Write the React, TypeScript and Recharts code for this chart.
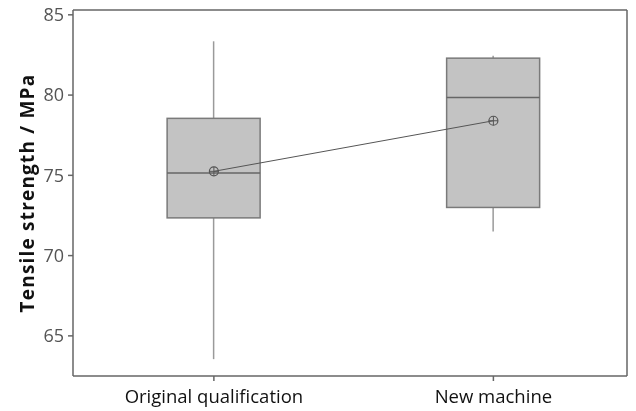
import React from "react";
import { ComposedChart, Bar, Line, XAxis, YAxis } from "recharts";

const categories = ["Original qualification", "New machine"];
const whiskerLow = [63.55, 71.5];
const q1 = [72.35, 73.0];
const median = [75.15, 79.85];
const q3 = [78.55, 82.3];
const whiskerHigh = [83.35, 82.45];
const means = [75.25, 78.4];
const yTicks = [65, 70, 75, 80, 85];
const xTicks = [0, 1];

const data = categories.map((name, i) => ({
  idx: i,
  name,
  range: [whiskerLow[i], whiskerHigh[i]],
  low: whiskerLow[i],
  q1: q1[i],
  median: median[i],
  q3: q3[i],
  high: whiskerHigh[i],
  mean: means[i],
}));

const BoxShape = (props: any) => {
  const { x, y, width, height, payload } = props;
  const { low, high } = payload;
  const py = (v: number) => y + ((high - v) / (high - low)) * height;
  const cx = x + width / 2;
  const yQ1 = py(payload.q1);
  const yQ3 = py(payload.q3);
  const yMed = py(payload.median);
  return (
    <g>
      <line x1={cx} x2={cx} y1={y} y2={yQ3} stroke="#9a9a9a" strokeWidth={1.5} />
      <line x1={cx} x2={cx} y1={yQ1} y2={y + height} stroke="#9a9a9a" strokeWidth={1.5} />
      <rect x={x} y={yQ3} width={width} height={yQ1 - yQ3} fill="#c3c3c3" stroke="#7a7a7a" strokeWidth={1.5} />
      <line x1={x} x2={x + width} y1={yMed} y2={yMed} stroke="#666" strokeWidth={1.5} />
    </g>
  );
};

const MeanDot = (props: any) => {
  const { cx, cy } = props;
  return (
    <g>
      <circle cx={cx} cy={cy} r={4.5} fill="none" stroke="#555" strokeWidth={1.2} />
      <line x1={cx - 4.5} x2={cx + 4.5} y1={cy} y2={cy} stroke="#555" strokeWidth={1} />
      <line x1={cx} x2={cx} y1={cy - 4.5} y2={cy + 4.5} stroke="#555" strokeWidth={1} />
    </g>
  );
};

export default function App() {
  return (
    <div style={{ position: "fixed", top: 0, left: 0, width: 636, height: 411 }}>
      <ComposedChart
        width={636}
        height={411}
        data={data}
        margin={{ top: 9, right: 8, bottom: 0, left: 0 }}
      >
        <XAxis
          dataKey="idx"
          type="number"
          xAxisId="main"
          domain={[-0.504, 1.478]}
          ticks={xTicks}
          tickFormatter={(v: number) => categories[v]}
          allowDataOverflow
          height={35}
          tickSize={5}
          tickMargin={9}
          stroke="#666"
          strokeWidth={1.5}
          tick={{ fill: "#111", fontSize: 18.5, fontFamily: "Open Sans" }}
        />
        <XAxis
          dataKey="idx"
          type="number"
          xAxisId="top"
          orientation="top"
          domain={[-0.504, 1.478]}
          height={1}
          tick={false}
          tickLine={false}
          stroke="#666"
          strokeWidth={1.5}
        />
        <YAxis
          yAxisId="main"
          domain={[62.5, 85.3]}
          ticks={yTicks}
          allowDataOverflow
          width={73}
          tickSize={5}
          tickMargin={4}
          stroke="#666"
          strokeWidth={1.5}
          tick={{ fill: "#555", fontSize: 18, fontFamily: "Open Sans" }}
          label={{
            value: "Tensile strength / MPa",
            angle: -90,
            position: "insideLeft",
            offset: 27,
            style: { textAnchor: "middle", fontWeight: 700, fontSize: 19, letterSpacing: 1.2, fill: "#111", fontFamily: "Open Sans" },
          }}
        />
        <YAxis
          yAxisId="right"
          orientation="right"
          domain={[62.5, 85.3]}
          width={1}
          tick={false}
          tickLine={false}
          stroke="#666"
          strokeWidth={1.5}
        />
        <Bar
          dataKey="range"
          xAxisId="main"
          yAxisId="main"
          barSize={93}
          shape={<BoxShape />}
          isAnimationActive={false}
        />
        <Line
          dataKey="mean"
          xAxisId="main"
          yAxisId="main"
          stroke="#555"
          strokeWidth={1}
          dot={<MeanDot />}
          activeDot={false}
          isAnimationActive={false}
        />
      </ComposedChart>
    </div>
  );
}
